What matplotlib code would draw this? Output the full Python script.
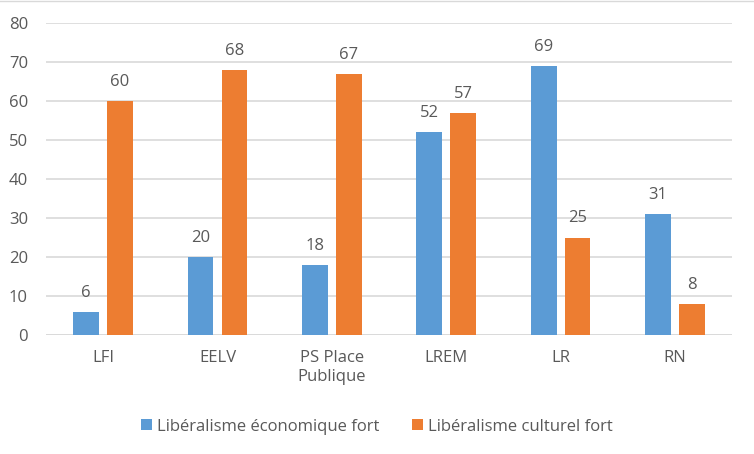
import numpy as np
import matplotlib.pyplot as plt

partis = ['LFI', 'EELV', 'PS Place\nPublique', 'LREM', 'LR', 'RN']
eco = [6, 20, 18, 52, 69, 31]
culturel = [60, 68, 67, 57, 25, 8]

bleu = '#5B9BD5'
orange = '#ED7D31'
gris = '#595959'

plt.rcParams['font.family'] = ['Open Sans', 'DejaVu Sans']

fig = plt.figure(figsize=(7.54, 4.54), dpi=100)
ax = fig.add_axes([0.061, 0.262, 0.910, 0.687])

x = np.arange(len(partis))
larg = 0.225
b1 = ax.bar(x - 0.148, eco, larg, color=bleu, label='Libéralisme économique fort', zorder=3)
b2 = ax.bar(x + 0.148, culturel, larg, color=orange, label='Libéralisme culturel fort', zorder=3)

for barres in (b1, b2):
    ax.bar_label(barres, padding=8, fontsize=12, color=gris)

ax.set_xlim(-0.5, len(partis) - 0.5)
ax.set_ylim(0, 80)
ax.set_yticks(range(0, 81, 10))
ax.set_xticks(x)
ax.set_xticklabels(partis)
ax.yaxis.grid(True, color='#D9D9D9', linewidth=1.2, zorder=0)
ax.tick_params(axis='both', length=0, labelsize=12, labelcolor=gris)
ax.tick_params(axis='x', pad=11)
ax.tick_params(axis='y', pad=13)
for s in ax.spines.values():
    s.set_visible(False)
ax.axhline(0, color='#D9D9D9', linewidth=1.2, zorder=2)

fig.legend(loc='center', bbox_to_anchor=(0.5, 0.06), ncol=2, frameon=False,
           fontsize=12, labelcolor=gris, handlelength=0.65, handleheight=0.65,
           handletextpad=0.3, columnspacing=2.0)

fig.add_artist(plt.Line2D([0, 1], [0.997, 0.997], color='#D9D9D9', linewidth=1))

plt.savefig('out.png')
